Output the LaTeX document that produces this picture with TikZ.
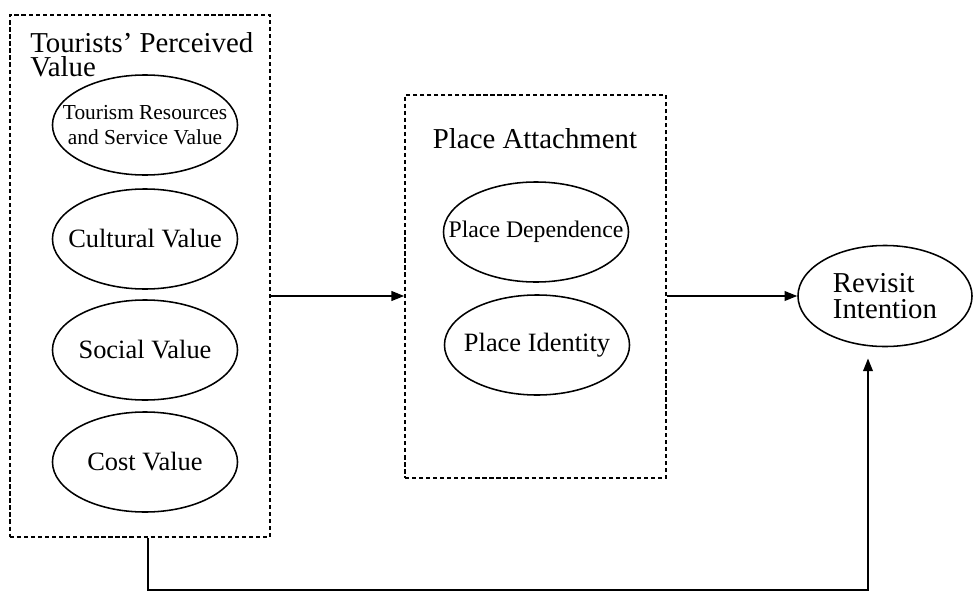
\documentclass[tikz,border=0pt]{standalone}
\usepackage{fontspec}
\setmainfont{Liberation Serif}
\usetikzlibrary{shapes.geometric,arrows.meta}

\begin{document}
\begin{tikzpicture}[x=0.025cm,y=-0.025cm,font=\fontsize{18.8}{21}\selectfont,
	group/.style={draw,shape=rectangle,line width=1.2pt,dash pattern=on 3pt off 2pt,inner sep=0pt},
	factor/.style={draw,shape=ellipse,line width=1.1pt,inner sep=0pt,minimum width=4.625cm,minimum height=2.5cm},
	conn/.style={line width=0.9pt,-{Triangle[length=9pt,width=7pt]}},
	every label/.style={inner sep=0pt,align=center}]
		\useasboundingbox (0,0) rectangle (973,592);
		%%%
		\node[group,minimum width=6.5cm,minimum height=13.05cm] (tpv) at (140,276) {};
		\node[group,minimum width=6.525cm,minimum height=9.575cm] (pa) at (535.5,286.5) {};
		\node[anchor=north west,inner sep=0pt,align=left,font=\fontsize{20.5}{17.5}\selectfont] (tpvtitle) at (30,32) {Tourists' Perceived\\Value};
		\node[anchor=base,inner sep=0pt,font=\fontsize{20.5}{24}\selectfont] (patitle) at (535,148) {Place Attachment};
		%%%
		\node[factor,label={[font=\fontsize{15.2}{17.8}\selectfont]center:Tourism Resources\\and Service Value}] (trsv) at (145,125) {};
		\node[factor,label={center:Cultural Value}] (cv) at (145,239) {};
		\node[factor,label={center:Social Value}] (sv) at (145,350) {};
		\node[factor,label={center:Cost Value}] (cost) at (145,462) {};
		\node[factor,label={[font=\fontsize{16.9}{20}\selectfont]center:Place Dependence}] (pd) at (536,232) {};
		\node[factor,label={center:Place Identity}] (pi) at (537,345) {};
		\node[factor,minimum width=4.35cm,minimum height=2.525cm,align=left,font=\fontsize{20.5}{18.5}\selectfont] (rev) at (885,296) {Revisit\\Intention};
		%%%
		\coordinate (low) at (148,590);
		\coordinate (lowr) at (868,590);
		\draw[conn] (tpv.east |- rev) -- (pa.west |- rev);
		\draw[conn] (pa.east |- rev) -- (rev);
		\draw[conn,shorten >=8pt] (tpv.south -| low) -- (low) -- (lowr) -- (lowr |- rev.south);
	\end{tikzpicture}
\end{document}
